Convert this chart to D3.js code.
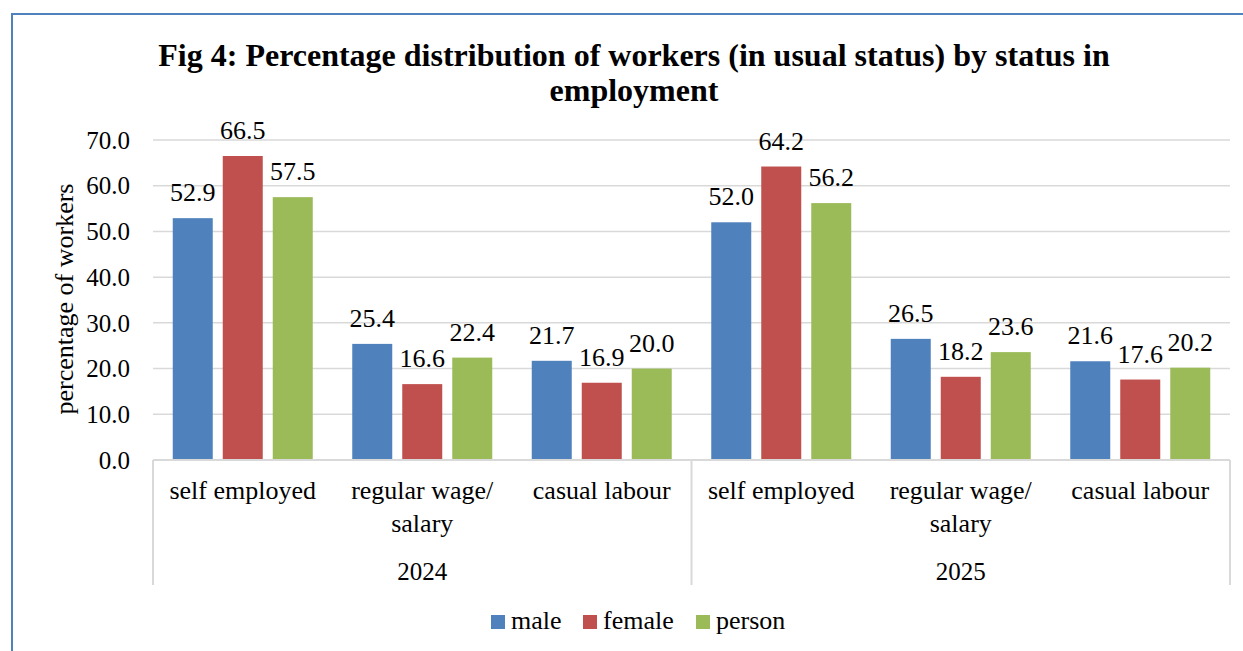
<!DOCTYPE html>
<html><head><meta charset="utf-8">
<script src="https://cdn.jsdelivr.net/npm/d3@7"></script>
<style>body{margin:0;background:#fff;}svg{display:block;}</style>
</head><body>
<svg id="c" width="1243" height="651"></svg>
<script>
const years = ["2024", "2025"];
const categories = ["self employed", "regular wage/\nsalary", "casual labour"];
const seriesNames = ["male", "female", "person"];
const colors = ["#4f81bd", "#c0504d", "#9bbb59"];
const male = [52.9, 25.4, 21.7, 52.0, 26.5, 21.6];
const female = [66.5, 16.6, 16.9, 64.2, 18.2, 17.6];
const person = [57.5, 22.4, 20.0, 56.2, 23.6, 20.2];
const yTicks = [0, 10, 20, 30, 40, 50, 60, 70];

const series = [male, female, person];
const svg = d3.select("#c");
const font = "'Liberation Serif','Times New Roman',serif";

// border
svg.append("path").attr("d", "M12,651 L12,14 L1243,14").attr("fill", "none")
  .attr("stroke", "#4f81bd").attr("stroke-width", 2);

const x0 = 153, x1 = 1230, yTop = 140, yBot = 460;
const slots = d3.range(6);
const x = d3.scaleBand().domain(slots).range([x0, x1]).padding(0);
const y = d3.scaleLinear().domain([0, 70]).range([yBot, yTop]);
const xs = d3.scaleBand().domain(seriesNames).range([0, x.bandwidth()]).paddingInner(0.2).paddingOuter(0.395);

// title
const title = svg.append("text").attr("text-anchor", "middle").attr("font-family", font)
  .attr("font-weight", "bold").attr("font-size", 32).attr("fill", "#000");
title.append("tspan").attr("x", 634).attr("y", 66).text("Fig 4: Percentage distribution of workers (in usual status) by status in");
title.append("tspan").attr("x", 634).attr("y", 101).text("employment");

// gridlines
svg.append("g").selectAll("line").data(yTicks.filter(d => d > 0)).join("line")
  .attr("x1", x0).attr("x2", x1).attr("y1", d => y(d)).attr("y2", d => y(d))
  .attr("stroke", "#d9d9d9").attr("stroke-width", 1.5);

// y axis labels
const yAxis = d3.axisLeft(y).tickValues(yTicks).tickFormat(d3.format(".1f")).tickSize(0).tickPadding(0);
const ya = svg.append("g").attr("transform", `translate(130,0)`).call(yAxis);
ya.select(".domain").remove();
ya.selectAll("text").attr("font-family", font).attr("font-size", 25).attr("fill", "#000").attr("dy", "0.33em");

// y title
svg.append("text").attr("transform", `translate(73,299) rotate(-90)`).attr("text-anchor", "middle")
  .attr("font-family", font).attr("font-size", 26).attr("fill", "#000").text("percentage of workers");

// bars
const g = svg.append("g");
series.forEach((vals, si) => {
  g.append("g").selectAll("rect").data(vals).join("rect")
    .attr("x", (d, i) => x(i) + xs(seriesNames[si]))
    .attr("width", xs.bandwidth())
    .attr("y", d => y(d)).attr("height", d => yBot - y(d))
    .attr("fill", colors[si]);
  g.append("g").selectAll("text").data(vals).join("text")
    .attr("x", (d, i) => x(i) + xs(seriesNames[si]) + xs.bandwidth() / 2)
    .attr("y", d => y(d) - 17)
    .attr("text-anchor", "middle").attr("font-family", font).attr("font-size", 26).attr("fill", "#000")
    .text(d => d.toFixed(1));
});

// x axis line & group separators
svg.append("line").attr("x1", x0).attr("x2", x1).attr("y1", yBot).attr("y2", yBot)
  .attr("stroke", "#d9d9d9").attr("stroke-width", 2);
const sepX = [x0, x(3), x1];
svg.append("g").selectAll("line").data(sepX).join("line")
  .attr("x1", d => d).attr("x2", d => d).attr("y1", yBot).attr("y2", 585)
  .attr("stroke", "#d9d9d9").attr("stroke-width", 2);

// category labels
slots.forEach(i => {
  const lines = categories[i % 3].split("\n");
  const t = svg.append("text").attr("text-anchor", "middle").attr("font-family", font)
    .attr("font-size", 26).attr("fill", "#000");
  lines.forEach((l, k) => t.append("tspan").attr("x", x(i) + x.bandwidth() / 2).attr("y", 499 + k * 33).text(l));
});
years.forEach((yr, k) => {
  svg.append("text").attr("x", (sepX[k] + sepX[k + 1]) / 2).attr("y", 580).attr("text-anchor", "middle")
    .attr("font-family", font).attr("font-size", 25).attr("fill", "#000").text(yr);
});

// legend
const legX = [491, 583, 696];
seriesNames.forEach((n, i) => {
  svg.append("rect").attr("x", legX[i]).attr("y", 615).attr("width", 14).attr("height", 14).attr("fill", colors[i]);
  svg.append("text").attr("x", legX[i] + 20).attr("y", 629).attr("font-family", font).attr("font-size", 26)
    .attr("fill", "#000").text(n);
});
</script>
</body></html>
